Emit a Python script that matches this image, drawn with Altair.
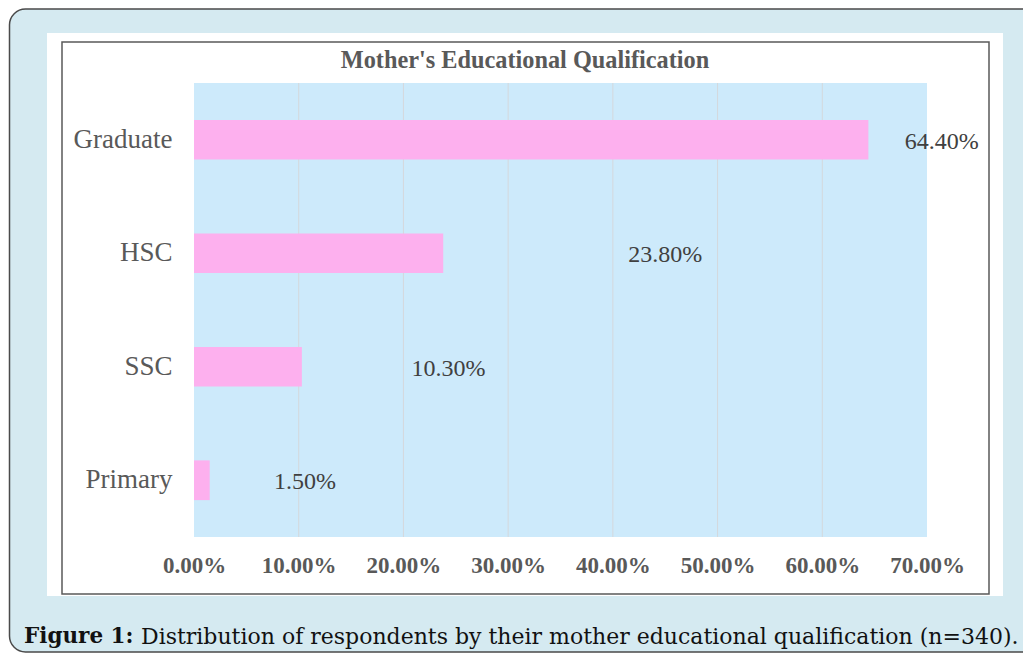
import altair as alt
import pandas as pd

# ---- data ----
categories = ["Graduate", "HSC", "SSC", "Primary"]
values = [0.644, 0.238, 0.103, 0.015]
tick_values = [0.0, 0.1, 0.2, 0.3, 0.4, 0.5, 0.6, 0.7]
grid_values = [0.1, 0.2, 0.3, 0.4, 0.5, 0.6]
title_text = "Mother's Educational Qualification"
caption_bold = "Figure 1:"
caption_rest = "Distribution of respondents by their mother educational qualification (n=340)."

# label placement offsets (style, in x-scale units), as Excel placed them
label_offset = {"Graduate": 0.070, "HSC": 0.212, "SSC": 0.140, "Primary": 0.091}

df = pd.DataFrame({"category": categories, "value": values})
grid_df = pd.DataFrame({"g": grid_values})
one = pd.DataFrame({"k": [0]})

W, H = 733, 454
SERIF = "Liberation Serif"
CAP_FONT = "DejaVu Serif"

xscale = alt.Scale(domain=[0, 0.7], nice=False, zero=True)
yscale = alt.Scale(domain=categories, paddingInner=0.65, paddingOuter=0.325)

x_axis = alt.Axis(
    values=tick_values,
    format=".2%",
    grid=False,
    ticks=False,
    domain=False,
    title=None,
    labelFont=SERIF,
    labelFontSize=23,
    labelFontWeight="bold",
    labelColor="#595959",
    labelPadding=17,
    labelFlush=False,
    labelOverlap=False,
    zindex=1,
)
y_axis = alt.Axis(
    ticks=False,
    domain=False,
    title=None,
    labelFont=SERIF,
    labelFontSize=27,
    labelColor="#595959",
    labelPadding=22,
    zindex=1,
)

outer = alt.Chart(one).mark_rect(
    fill="#d5eaf1", stroke="#4a4a4a", strokeWidth=1.5, cornerRadius=16
).encode(x=alt.value(-184.5), x2=alt.value(880), y=alt.value(-74), y2=alt.value(569))

white = alt.Chart(one).mark_rect(fill="white").encode(
    x=alt.value(-147), x2=alt.value(809), y=alt.value(-50), y2=alt.value(513)
)
border = alt.Chart(one).mark_rect(fill="white", stroke="#5a5a5a", strokeWidth=1.5).encode(
    x=alt.value(-132), x2=alt.value(795), y=alt.value(-41), y2=alt.value(511)
)
plotbg = alt.Chart(one).mark_rect(fill="#cdeafb").encode(
    x=alt.value(0), x2=alt.value(W), y=alt.value(0), y2=alt.value(H)
)
grid = alt.Chart(grid_df).mark_rule(color="#d4d8dc", strokeWidth=1).encode(
    x=alt.X("g:Q", scale=xscale, axis=x_axis),
)

bars = alt.Chart(df).mark_bar(color="#fdb0ee").encode(
    x=alt.X("value:Q", scale=xscale, axis=x_axis),
    y=alt.Y("category:N", scale=yscale, sort=categories, axis=y_axis),
)

offset_expr = "{" + ",".join(f"'{k}':{v}" for k, v in label_offset.items()) + "}"
labels = (
    alt.Chart(df)
    .transform_calculate(lx=f"datum.value + {offset_expr}[datum.category]")
    .transform_calculate(txt="format(datum.value, '.2%')")
    .mark_text(font=SERIF, fontSize=24, color="#404040", align="center", baseline="middle", dy=2)
    .encode(
        x=alt.X("lx:Q", scale=xscale, axis=x_axis),
        y=alt.Y("category:N", scale=yscale, sort=categories, axis=y_axis),
        text="txt:N",
    )
)

title = alt.Chart(one).mark_text(
    text=title_text, font=SERIF, fontSize=24.3, fontWeight="bold", color="#595959",
    align="center", baseline="middle"
).encode(x=alt.value(331), y=alt.value(-22))

cap1 = alt.Chart(one).mark_text(
    text=caption_bold, font=CAP_FONT, fontSize=21.5, fontWeight="bold", color="#111111",
    align="left", baseline="middle"
).encode(x=alt.value(-170), y=alt.value(554))
cap2 = alt.Chart(one).mark_text(
    text=caption_rest, font=CAP_FONT, fontSize=22, color="#111111",
    align="left", baseline="middle"
).encode(x=alt.value(-53), y=alt.value(554))

chart = (
    alt.layer(outer, white, border, plotbg, grid, bars, labels, title, cap1, cap2)
    .properties(
        width=W,
        height=H,
        padding={"left": 186, "top": 75, "right": 96, "bottom": 117},
        autosize=alt.AutoSizeParams(type="none"),
        background="white",
    )
    .configure_view(stroke=None)
)

chart.save("out.html", embed_options={"renderer": "svg", "actions": False})
